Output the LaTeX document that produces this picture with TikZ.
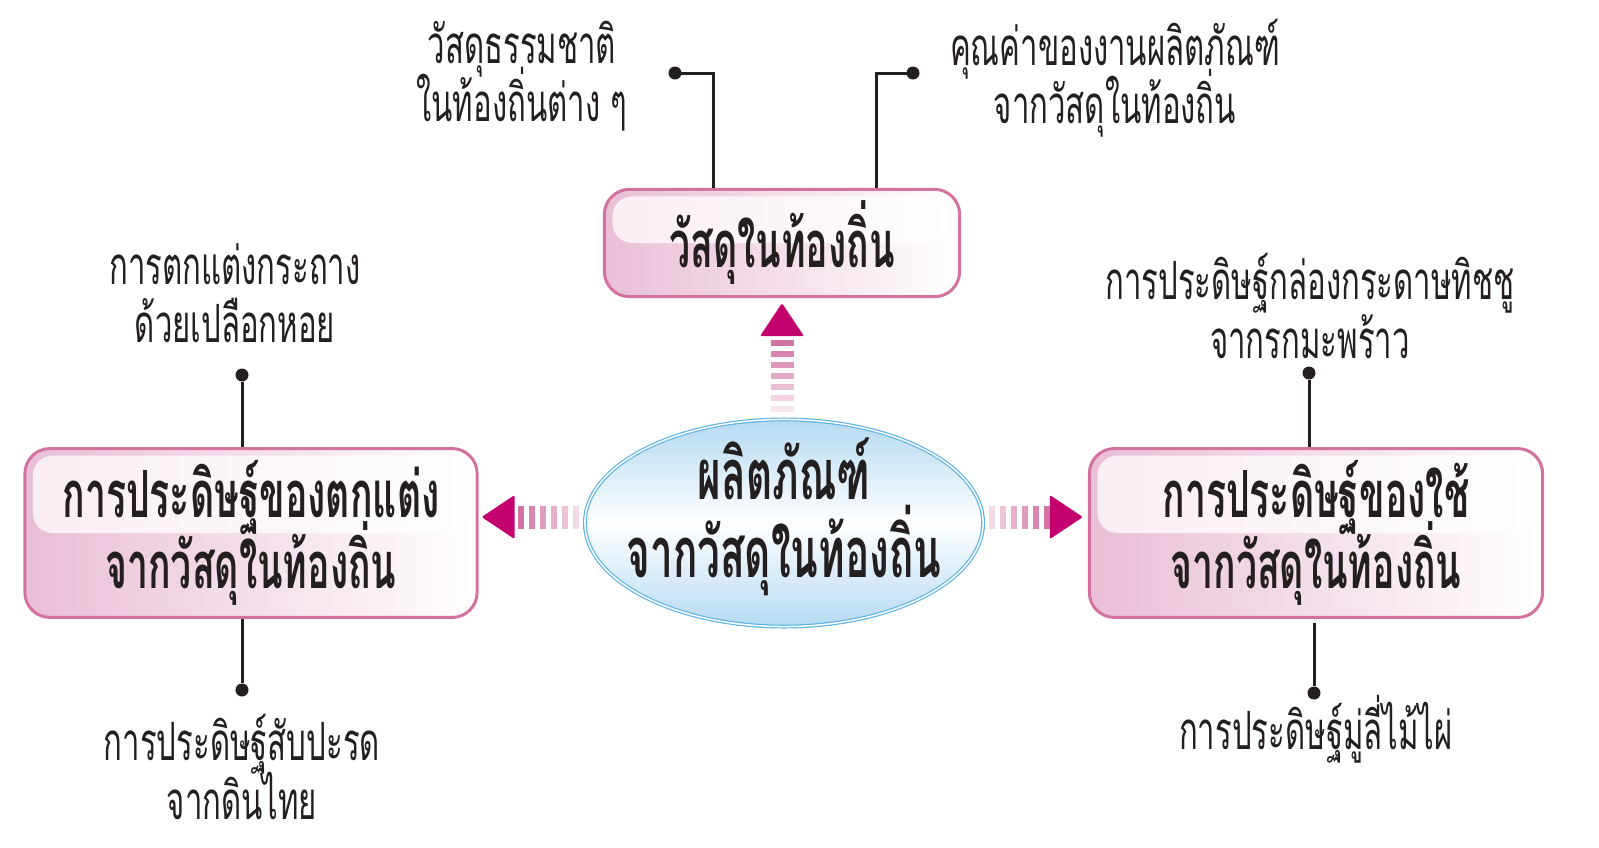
\documentclass[tikz,border=0pt]{standalone}
\usepackage{fontspec}
\newfontfamily\thaifont[Script=Thai, FakeStretch=0.59]{Loma}
\newfontfamily\thaibold[Script=Thai, FakeStretch=0.575]{Loma}
\usetikzlibrary{positioning,shapes.geometric}
\setlength{\lineskiplimit}{-30pt}

\definecolor{boxline}{HTML}{D4729F}
\definecolor{boxfill}{HTML}{E9BFD5}
\definecolor{headcol}{HTML}{C2006E}
\definecolor{dashcol}{HTML}{CF6A9E}
\definecolor{ovalline}{HTML}{5DB4E5}
\definecolor{ovalfill}{HTML}{B5DAF2}
\definecolor{ink}{HTML}{231F20}

\tikzset{
  topic/.style={draw=boxline, line width=0.03cm, rounded corners=0.25cm,
    left color=boxfill, right color=white, align=center, text=ink,
    font=\thaibold\bfseries\fontsize{18.5}{20.3}\selectfont,
    path picture={\fill[white, opacity=0.75, rounded corners=0.2cm]
      ([xshift=0.08cm, yshift=-0.07cm]path picture bounding box.north west)
      rectangle ([xshift=-0.1cm]path picture bounding box.east);}},
  oval/.style={ellipse, draw=ovalline, double=white, double distance=0.015cm,
    line width=0.012cm, top color=ovalfill, bottom color=ovalfill, middle color=white,
    minimum width=3.98cm, minimum height=2.07cm, inner xsep=0, inner ysep=-0.25cm,
    align=center, text=ink, font=\thaibold\bfseries\fontsize{20}{22.2}\selectfont},
  dot/.style={circle, fill=ink, inner sep=0, minimum size=0.13cm},
  note/.style={align=center, text=ink, font=\thaifont\fontsize{15}{16.5}\selectfont},
  link/.style={draw=ink, line width=0.03cm}
}

\begin{document}
\begin{tikzpicture}[x=0.01cm, y=-0.01cm]
  \useasboundingbox (0,0) rectangle (1599,848);

  % main boxes
  \node[oval] (product) at (784,523) {\makebox[0pt]{ผลิตภัณฑ์}\\ \makebox[0pt]{จากวัสดุในท้องถิ่น}\rule[-0.3cm]{0pt}{0.3cm}};
  \node[topic, minimum width=3.55cm, minimum height=0.97cm] (local) at (782,243) {วัสดุในท้องถิ่น};
  \node[topic, minimum width=4.52cm, minimum height=1.62cm] (decor) at (251,533) {การประดิษฐ์ของตกแต่ง\\จากวัสดุในท้องถิ่น};
  \node[topic, minimum width=4.53cm, minimum height=1.62cm] (utensil) at (1316,533) {การประดิษฐ์ของใช้\\จากวัสดุในท้องถิ่น};

  % dots and notes
  \node[dot] (d1) at (675,73) {};
  \node[dot] (d2) at (913,73) {};
  \node[dot] (d3) at (242,375) {};
  \node[dot] (d4) at (242,690) {};
  \node[dot] (d5) at (1309,373) {};
  \node[dot] (d6) at (1314,693) {};
  \node[note] (n1) at (522,76) {วัสดุธรรมชาติ\\ในท้องถิ่นต่าง ๆ};
  \node[note] (n2) at (1115,78) {คุณค่าของงานผลิตภัณฑ์\\จากวัสดุในท้องถิ่น};
  \node[note] (n3) at (235,293) {การตกแต่งกระถาง\\ด้วยเปลือกหอย};
  \node[note] (n4) at (242,767) {การประดิษฐ์สับปะรด\\จากดินไทย};
  \node[note] (n5) at (1310,306) {การประดิษฐ์กล่องกระดาษทิชชู\\จากรกมะพร้าว};
  \node[note] (n6) at (1316,729) {การประดิษฐ์มู่ลี่ไม้ไผ่};

  \draw[link] (d1.center) -| ([xshift=-0.68cm]local.north);
  \draw[link] (d2.center) -| ([xshift=0.94cm]local.north);
  \draw[link] (d3) -- (decor.north -| d3);
  \draw[link] (decor.south -| d4) -- (d4);
  \draw[link] (d5) -- (utensil.north -| d5);
  \draw[link] ([yshift=-0.04cm]utensil.south -| d6) -- (d6);

  % arrows out of the oval
  \fill[headcol, rounded corners=0.02cm] ([yshift=-0.05cm]local.south) -- ++(22,33) -- ++(-44,0) -- cycle;
  \foreach \i [evaluate=\i as \op using 0.95-0.13*\i] in {0,...,6}
    \fill[dashcol, opacity=\op] ([shift={(-11,42+11*\i)}]local.south) rectangle ++(23,6);
  \fill[headcol, rounded corners=0.02cm] ([shift={(3,-16)}]decor.east) -- ++(33,-22) -- ++(0,44) -- cycle;
  \foreach \i [evaluate=\i as \op using 0.95-0.14*\i] in {0,...,5}
    \fill[dashcol, opacity=\op] ([shift={(39+11*\i,-27.5)}]decor.east) rectangle ++(6,23);
  \fill[headcol, rounded corners=0.02cm] ([shift={(-5,-16)}]utensil.west) -- ++(-33,-22) -- ++(0,44) -- cycle;
  \foreach \i [evaluate=\i as \op using 0.95-0.14*\i] in {0,...,5}
    \fill[dashcol, opacity=\op] ([shift={(-44-11*\i,-27.5)}]utensil.west) rectangle ++(6,23);
\end{tikzpicture}
\end{document}
